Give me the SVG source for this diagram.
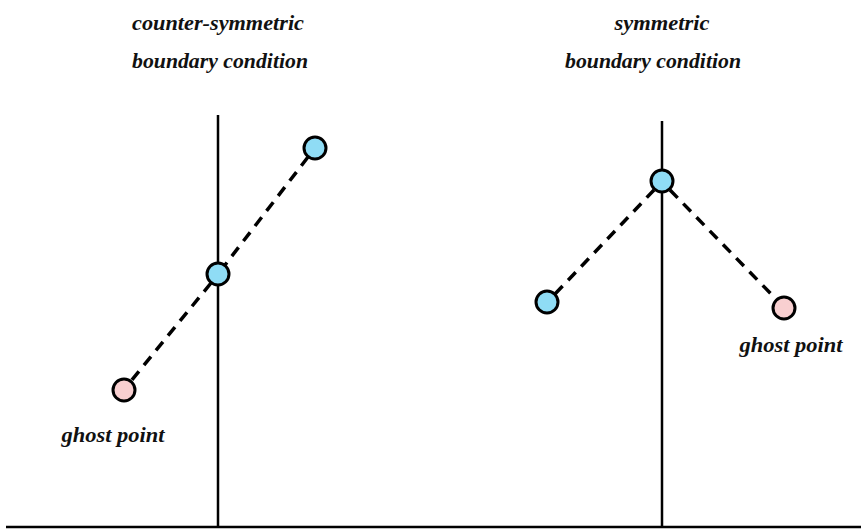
<svg xmlns="http://www.w3.org/2000/svg" width="867" height="529" viewBox="0 0 867 529">
<style>
.lbl{font-family:"Liberation Serif","DejaVu Serif",serif;font-style:italic;font-weight:bold;font-size:21.5px;fill:#111;text-anchor:middle}
.axis{stroke:#000;stroke-width:2.5;fill:none}
.dash{stroke:#000;stroke-width:3.5;stroke-dasharray:11 8;fill:none}
.pt{stroke:#000;stroke-width:3}
.real{fill:#8fdcf5}
.ghost{fill:#f8cfd0}
</style>
<rect width="867" height="529" fill="#fff"/>
<g id="axes">
<line class="axis" x1="6" y1="527" x2="861" y2="527"/>
<line class="axis" x1="218" y1="115" x2="218" y2="527"/>
<line class="axis" x1="662" y1="121" x2="662" y2="527"/>
</g>
<g id="connectors">
<line class="dash" x1="308" y1="157" x2="225" y2="265"/>
<line class="dash" x1="211" y1="283" x2="131" y2="381"/>
<line class="dash" x1="555" y1="294" x2="654" y2="190"/>
<line class="dash" x1="670" y1="190" x2="776" y2="299"/>
</g>
<g id="n-left-top"><circle class="pt real" cx="315" cy="148" r="11"/></g>
<g id="n-left-mid"><circle class="pt real" cx="218" cy="274" r="11"/></g>
<g id="n-left-ghost"><circle class="pt ghost" cx="124" cy="390" r="11"/></g>
<g id="n-right-top"><circle class="pt real" cx="662" cy="181" r="11"/></g>
<g id="n-right-left"><circle class="pt real" cx="547" cy="302" r="11"/></g>
<g id="n-right-ghost"><circle class="pt ghost" cx="784" cy="308" r="11"/></g>
<g id="labels">
<text class="lbl" x="218" y="30" textLength="172" lengthAdjust="spacingAndGlyphs">counter-symmetric</text>
<text class="lbl" x="220" y="68" textLength="176" lengthAdjust="spacingAndGlyphs">boundary condition</text>
<text class="lbl" x="662" y="30" textLength="95" lengthAdjust="spacingAndGlyphs">symmetric</text>
<text class="lbl" x="653" y="68" textLength="176" lengthAdjust="spacingAndGlyphs">boundary condition</text>
<text class="lbl" x="113" y="442" textLength="103" lengthAdjust="spacingAndGlyphs">ghost point</text>
<text class="lbl" x="791" y="352" textLength="103" lengthAdjust="spacingAndGlyphs">ghost point</text>
</g>
</svg>
